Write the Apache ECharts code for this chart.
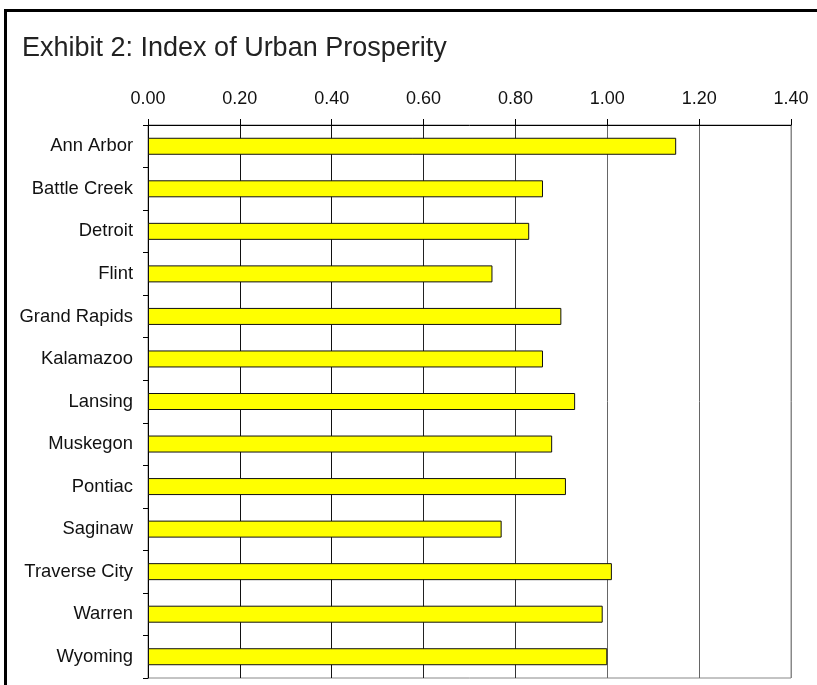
<!DOCTYPE html>
<html>
<head>
<meta charset="utf-8">
<script src="https://cdn.jsdelivr.net/npm/echarts@6/dist/echarts.min.js"></script>
<style>
html,body{margin:0;padding:0;background:#fff;}
#chart{width:817px;height:685px;}
</style>
</head>
<body>
<div id="chart"></div>
<script>
const titleText = 'Exhibit 2: Index of Urban Prosperity';
const cities = ['Ann Arbor','Battle Creek','Detroit','Flint','Grand Rapids','Kalamazoo','Lansing','Muskegon','Pontiac','Saginaw','Traverse City','Warren','Wyoming'];
const prosperity = [1.15,0.86,0.83,0.75,0.90,0.86,0.93,0.88,0.91,0.77,1.01,0.99,1.00];
const axisMin = 0;
const axisMax = 1.4;
const axisStep = 0.2;

const FONT = '"Liberation Sans", Arial, Helvetica, sans-serif';
const chart = echarts.init(document.getElementById('chart'), null, {renderer:'canvas'});
chart.setOption({
  animation: false,
  backgroundColor: '#fff',
  title: {
    text: titleText,
    left: 17, top: 30,
    textStyle: {fontFamily: FONT, fontSize: 27, fontWeight: 'normal', color: '#222'}
  },
  graphic: [{
    type: 'rect',
    shape: {x: 5.5, y: 10.5, width: 1000, height: 1000},
    style: {fill: 'none', stroke: '#000', lineWidth: 3},
    silent: true, z: 100
  }],
  grid: {
    left: 148, right: 26, top: 125, bottom: 7,
    show: true, borderColor: '#888', borderWidth: 1, backgroundColor: 'transparent'
  },
  xAxis: {
    type: 'value',
    position: 'top',
    min: axisMin, max: axisMax, interval: axisStep,
    axisLine: {show: true, lineStyle: {color: '#000', width: 1}},
    axisTick: {show: true, inside: false, length: 6, lineStyle: {color: '#000'}},
    axisLabel: {
      fontFamily: FONT, fontSize: 18, color: '#111', margin: 17,
      formatter: v => v.toFixed(2)
    },
    splitLine: {show: true, lineStyle: {color: ['#000','#111','#111','#222','#333','#666','#666','#888'], width: 1}}
  },
  yAxis: {
    type: 'category',
    data: cities,
    inverse: true,
    axisLine: {show: true, lineStyle: {color: '#000', width: 1}},
    axisTick: {show: true, inside: false, length: 5, lineStyle: {color: '#000'}},
    axisLabel: {fontFamily: FONT, fontSize: 18.4, color: '#111', margin: 15},
    splitLine: {show: false}
  },
  series: [{
    type: 'bar',
    data: prosperity,
    barWidth: 17,
    itemStyle: {color: '#ffff00', borderColor: '#111', borderWidth: 1}
  }]
});
</script>
</body>
</html>
